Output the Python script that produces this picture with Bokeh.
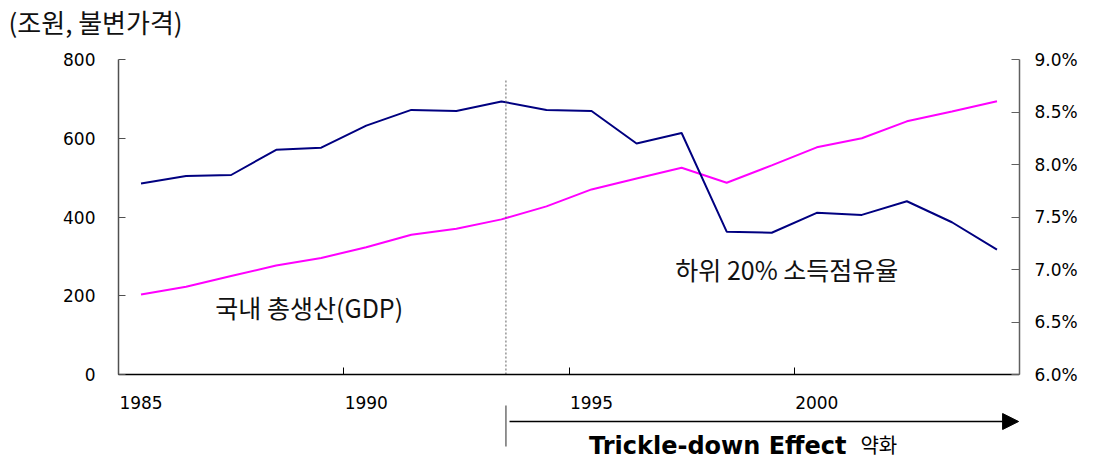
from bokeh.plotting import figure
from bokeh.models import (Range1d, LinearAxis, FixedTicker, PrintfTickFormatter,
                          Label, Arrow, NormalHead)
from bokeh.embed import file_html
from bokeh.resources import INLINE

# ---- data ----
years = list(range(1985, 2005))
gdp = [203, 223, 250, 277, 296, 323, 355, 370, 394, 427,
       470, 498, 525, 487, 531, 577, 600, 643, 668, 694]          # 조원, 불변가격
share = [7.82, 7.89, 7.90, 8.14, 8.16, 8.37, 8.52, 8.51, 8.60, 8.52,
         8.51, 8.20, 8.30, 7.36, 7.35, 7.54, 7.52, 7.65, 7.45, 7.19]  # 하위 20% 소득점유율 (%)
x_label_years = [1985, 1990, 1995, 2000]
x_label_text = ["1985", "1990", "1995", "2000"]
category_bounds = [1984.5, 1989.5, 1994.5, 1999.5, 2004.5]
gdp_ticks = [0, 200, 400, 600, 800]
gdp_tick_text = ["0", "200", "400", "600", "800"]
pct_ticks = [6.0, 6.5, 7.0, 7.5, 8.0, 8.5, 9.0]
pivot_year = 1993.1

TICK_FONT = "DejaVu Sans"
KR_FONT = "Noto Sans CJK KR"

# ---- layout constants (pixels, page coordinates) ----
W, H = 1097, 459
AXIS_L, AXIS_R = 118, 1019         # pixel columns of the left / right value axes
AXIS_T, AXIS_Y = 59, 374           # pixel rows of 800 / 0
X0, X1 = 1984.5, 2004.5            # category range spanned by the axes
ppx = (AXIS_R - AXIS_L) / (X1 - X0)
ppu = (AXIS_Y - AXIS_T) / 800.0
pct_ppu = (AXIS_Y - AXIS_T) / 3.0


def xpix(px):
    return X0 + (px - AXIS_L) / ppx


def ypix(py):
    return (AXIS_Y - py) / ppu


p = figure(width=W, height=H, output_backend="svg", toolbar_location=None,
           x_range=Range1d(xpix(0), X1), y_range=Range1d(ypix(H), ypix(0)),
           min_border_left=0, min_border_right=W - AXIS_R,
           min_border_top=0, min_border_bottom=0)
p.outline_line_color = None
p.xgrid.visible = False
p.ygrid.visible = False
p.background_fill_color = "white"
p.border_fill_color = "white"

p.extra_y_ranges = {"pct": Range1d(6.0 - (H - AXIS_Y) / pct_ppu,
                                   9.0 + AXIS_T / pct_ppu)}

# bottom axis, drawn at value 0 (only the category-boundary ticks)
xa = p.xaxis[0]
xa.fixed_location = 0
xa.bounds = (X0, X1)
xa.ticker = FixedTicker(ticks=[], minor_ticks=category_bounds)
xa.major_tick_line_color = None
xa.major_tick_in = 0
xa.major_tick_out = 0
xa.minor_tick_line_color = "black"
xa.minor_tick_in = 7
xa.minor_tick_out = 0
xa.axis_line_color = "black"
xa.axis_line_width = 1.5
xa.major_label_standoff = 0

# left axis, drawn at the first category boundary
ya = p.yaxis[0]
ya.fixed_location = X0
ya.bounds = (0, 800)
ya.ticker = FixedTicker(ticks=[], minor_ticks=gdp_ticks)
ya.major_tick_line_color = None
ya.major_tick_in = 0
ya.major_tick_out = 0
ya.minor_tick_in = 7
ya.minor_tick_out = 0
ya.minor_tick_line_color = "#505050"
ya.axis_line_color = "#505050"
ya.axis_line_width = 1.5
ya.major_label_standoff = 0

# right axis
ra = LinearAxis(y_range_name="pct", ticker=FixedTicker(ticks=pct_ticks),
                formatter=PrintfTickFormatter(format="%.1f%%"), bounds=(6.0, 9.0))
ra.major_tick_in = 8
ra.major_tick_out = 0
ra.minor_tick_line_color = None
ra.axis_line_color = "#606060"
ra.major_tick_line_color = "#606060"
ra.axis_line_width = 1.5
ra.major_label_standoff = 15
ra.major_label_text_font = TICK_FONT
ra.major_label_text_font_size = "17px"
ra.major_label_text_color = "black"
p.add_layout(ra, "right")

# tick labels of the left and bottom axes
p.text(x=[xpix(95)] * len(gdp_ticks), y=gdp_ticks, text=gdp_tick_text,
       text_align="right", text_baseline="middle", text_font_size="17px",
       text_font={"value": TICK_FONT}, text_color="black")
p.text(x=x_label_years, y=[ypix(402)] * len(x_label_years), text=x_label_text,
       text_align="center", text_baseline="middle", text_font_size="17px",
       text_font={"value": TICK_FONT}, text_color="black")

# lines
p.line(years, gdp, line_color="#FF00FF", line_width=2)
p.line(years, share, line_color="#000080", line_width=2, y_range_name="pct")

# dotted pivot line
p.segment(x0=[pivot_year], y0=[0], x1=[pivot_year], y1=[ypix(78)],
          line_color="#606060", line_width=1, line_dash="2 2")

# unit caption and series captions
p.add_layout(Label(x=xpix(8), y=ypix(21), text="(조원, 불변가격)", text_font=KR_FONT,
                   text_font_size="26px", text_baseline="middle", text_align="left",
                   text_color="#111111"))
p.add_layout(Label(x=1986.65, y=ypix(306.7), text="국내 총생산(GDP)", text_font=KR_FONT,
                   text_font_size="25px", text_baseline="middle", text_align="left",
                   text_color="#111111"))
p.add_layout(Label(x=1996.86, y=ypix(268), text="하위 20% 소득점유율", text_font=KR_FONT,
                   text_font_size="25px", text_baseline="middle", text_align="left",
                   text_color="#111111"))

# arrow region below axis
p.add_layout(Arrow(x_start=pivot_year, y_start=ypix(405), x_end=pivot_year, y_end=ypix(446),
                   start=None, end=None, line_color="#707070", line_width=1.5))
p.add_layout(Arrow(x_start=1993.18, y_start=ypix(421), x_end=2004.48, y_end=ypix(421),
                   start=None,
                   end=NormalHead(size=16, fill_color="black", line_color="black"),
                   line_color="black", line_width=1.5))
p.add_layout(Label(x=2000.66, y=ypix(445), text="Trickle-down Effect",
                   text_font="DejaVu Sans", text_font_style="bold",
                   text_font_size="24px", text_baseline="middle", text_align="right",
                   text_color="black"))
p.add_layout(Label(x=2000.97, y=ypix(444), text="약화", text_font=KR_FONT,
                   text_font_size="20px", text_baseline="middle", text_align="left",
                   text_color="black"))

open("out.html", "w").write(file_html(p, INLINE))
